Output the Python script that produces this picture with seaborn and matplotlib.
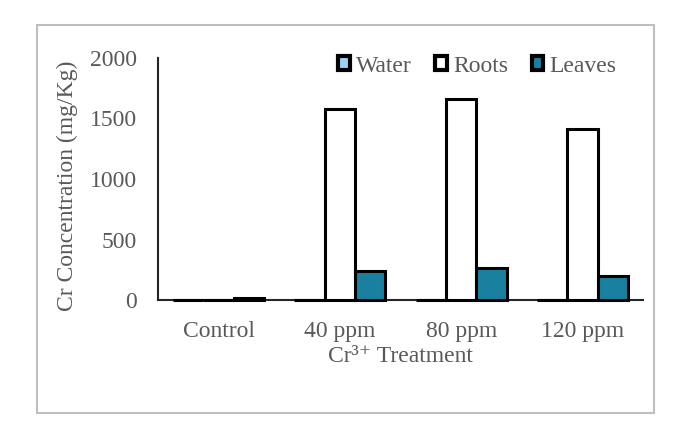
import matplotlib
matplotlib.use("Agg")
import matplotlib.pyplot as plt
import matplotlib.patches as mpatches
import seaborn as sns
import pandas as pd

treatments = ["Control", "40 ppm", "80 ppm", "120 ppm"]
water = [3, 4, 4, 4]
roots = [4, 1580, 1660, 1410]
leaves = [15, 240, 262, 195]

colors = {"Water": "#9fd3f2", "Roots": "#ffffff", "Leaves": "#1a80a0"}
text_gray = "#595959"

df = pd.DataFrame({
    "Treatment": treatments * 3,
    "Part": ["Water"] * 4 + ["Roots"] * 4 + ["Leaves"] * 4,
    "Conc": water + roots + leaves,
})

sns.set_style("white")
plt.rcParams["font.family"] = ["Liberation Serif", "DejaVu Serif"]

fig = plt.figure(figsize=(6.79, 4.36), dpi=100)
# outer chart border
fig.patches.append(mpatches.Rectangle((37 / 679, 1 - 413 / 436), 617 / 679, 388 / 436,
                                      transform=fig.transFigure, fill=False,
                                      edgecolor="#bfbfbf", linewidth=1.5))
ax = fig.add_axes([158 / 679, 1 - 300 / 436, 485 / 679, 242 / 436])

sns.barplot(data=df, x="Treatment", y="Conc", hue="Part", palette=colors,
            saturation=1, width=0.75, edgecolor="black", linewidth=2.2,
            ax=ax, legend=False)
for p in ax.patches:
    p.set_clip_on(False)
    p.set_zorder(3)

ax.set_ylim(0, 2000)
ax.set_yticks([0, 500, 1000, 1500, 2000])
ax.set_xlim(-0.5, 3.5)
ax.set_xticks([-0.5, 0.5, 1.5, 2.5, 3.5], minor=True)
ax.tick_params(axis="x", which="major", length=0, labelsize=17, colors=text_gray, pad=15)
ax.tick_params(axis="x", which="minor", length=6, width=1.5, color="#262626", direction="out")
ax.tick_params(axis="y", length=5, width=1.5, color="#262626", labelsize=17,
               labelcolor=text_gray, direction="out", pad=10)
ax.set_ylabel("Cr Concentration (mg/Kg)", fontsize=17, color=text_gray)
ax.yaxis.set_label_coords(-0.165, 0.47)
ax.set_xlabel("Cr³⁺ Treatment", fontsize=17, color=text_gray, labelpad=3)
for s in ["top", "right"]:
    ax.spines[s].set_visible(False)
for s in ["left", "bottom"]:
    ax.spines[s].set_color("#262626")
    ax.spines[s].set_linewidth(1.5)

handles = [mpatches.Patch(facecolor=colors[k], edgecolor="black", linewidth=3, label=k)
           for k in ["Water", "Roots", "Leaves"]]
leg = ax.legend(handles=handles, loc="upper right", bbox_to_anchor=(0.945, 1.01), ncol=3,
                frameon=False, fontsize=17, handlelength=0.5, handleheight=0.5,
                handletextpad=0.25, columnspacing=1.0, borderaxespad=0, borderpad=0)
for t in leg.get_texts():
    t.set_color(text_gray)

fig.savefig("out.png", dpi=100)
